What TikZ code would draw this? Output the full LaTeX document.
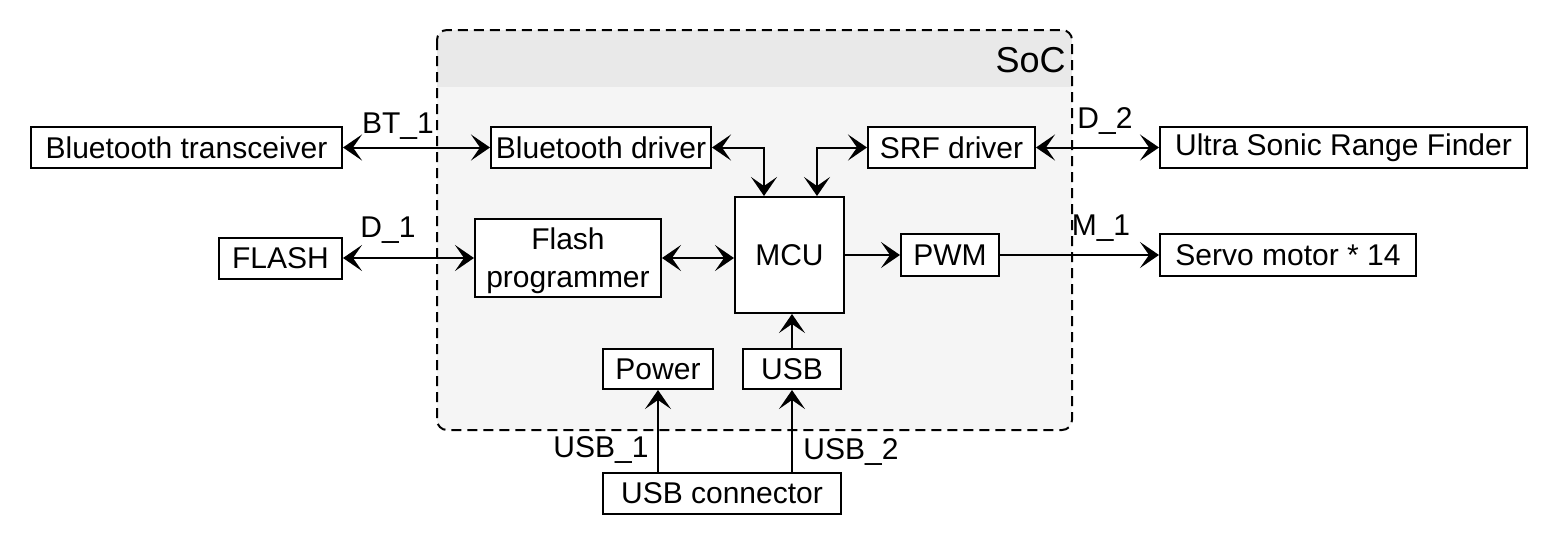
\documentclass[tikz,border=0pt]{standalone}
\usepackage{fontspec}
\setmainfont{Liberation Sans}
\usetikzlibrary{arrows.meta,calc}
\definecolor{hdr}{HTML}{E9E9E9}
\definecolor{bodyc}{HTML}{F5F5F5}
\begin{document}
\begin{tikzpicture}[x=0.5pt,y=-0.5pt,
  box/.style={draw,line width=1pt,fill=white,inner sep=0pt,font=\fontsize{15}{17.5}\selectfont},
  lbl/.style={inner sep=0pt,font=\fontsize{15}{17.5}\selectfont},
  conn/.style={line width=1pt},
  tip/.style={-{Stealth[length=9.5pt,width=13pt,inset=4.5pt]}},
  dtip/.style={{Stealth[length=9.5pt,width=13pt,inset=4.5pt]}-{Stealth[length=9.5pt,width=13pt,inset=4.5pt]}}]
\useasboundingbox (0,0) rectangle (1555,547);
% SoC container
\fill[bodyc,rounded corners=5pt] (437,30) rectangle (1072,430);
\begin{scope}
  \clip[rounded corners=5pt] (437,30) rectangle (1072,430);
  \fill[hdr] (437,30) rectangle (1072,87);
\end{scope}
\draw[line width=1pt,dash pattern=on 5pt off 3pt,rounded corners=5pt] (437,30) rectangle (1072,430);
\node[lbl,anchor=east,font=\fontsize{18}{21}\selectfont] (soc) at (1066,60) {SoC};
% boxes
\node[box,minimum width=155.5pt,minimum height=20.5pt] (bt) at (186.5,147.5) {Bluetooth transceiver};
\node[box,minimum width=61.5pt,minimum height=20.5pt] (flash) at (280.5,258) {FLASH};
\node[box,minimum width=110pt,minimum height=20.5pt] (btd) at (601,147.5) {Bluetooth driver};
\node[box,minimum width=83.5pt,minimum height=20.5pt] (srf) at (951.5,147.5) {SRF driver};
\node[box,minimum width=183.5pt,minimum height=20.5pt] (usrf) at (1343.5,147.5) {Ultra Sonic Range Finder};
\node[box,minimum width=93pt,minimum height=39pt,align=center,text depth=-1pt,font=\fontsize{15}{19}\selectfont] (fp) at (568,258) {Flash\\programmer};
\node[box,minimum width=54.5pt,minimum height=58pt] (mcu) at (789.5,255) {MCU};
\node[box,minimum width=49pt,minimum height=21pt] (pwm) at (950,255) {PWM};
\node[box,minimum width=128pt,minimum height=21pt] (servo) at (1288,255) {Servo motor * 14};
\node[box,minimum width=55pt,minimum height=20pt] (power) at (658,369) {Power};
\node[box,minimum width=49pt,minimum height=20pt] (usb) at (792,369) {USB};
\node[box,minimum width=119pt,minimum height=20.5pt] (usbc) at (722,493.5) {USB connector};
% connectors
\draw[conn,dtip] (bt.east) -- (btd.west);
\draw[conn,dtip] (flash.east) -- (flash.east -| fp.west);
\draw[conn,dtip] (btd.east) -| ([xshift=-12.75pt]mcu.north);
\draw[conn,dtip] (srf.west) -| ([xshift=13.75pt]mcu.north);
\draw[conn,dtip] (srf.east) -- (usrf.west);
\draw[conn,dtip] (fp.east) -- (fp.east -| mcu.west);
\draw[conn,tip] (mcu.east) -- (mcu.east -| pwm.west);
\draw[conn,tip] (pwm.east) -- (pwm.east -| servo.west);
\draw[conn,tip] (usb.north) -- (usb.north |- mcu.south);
\draw[conn,tip] (power.south |- usbc.north) -- (power.south);
\draw[conn,tip] (usb.south |- usbc.north) -- (usb.south);
% labels
\node[lbl] (l1) at (398,126) {BT\_1};
\node[lbl] (l2) at (388,230) {D\_1};
\node[lbl] (l3) at (1105,121) {D\_2};
\node[lbl] (l4) at (1101,228) {M\_1};
\node[lbl] (l5) at (601,450) {USB\_1};
\node[lbl] (l6) at (851,452) {USB\_2};
\end{tikzpicture}
\end{document}
